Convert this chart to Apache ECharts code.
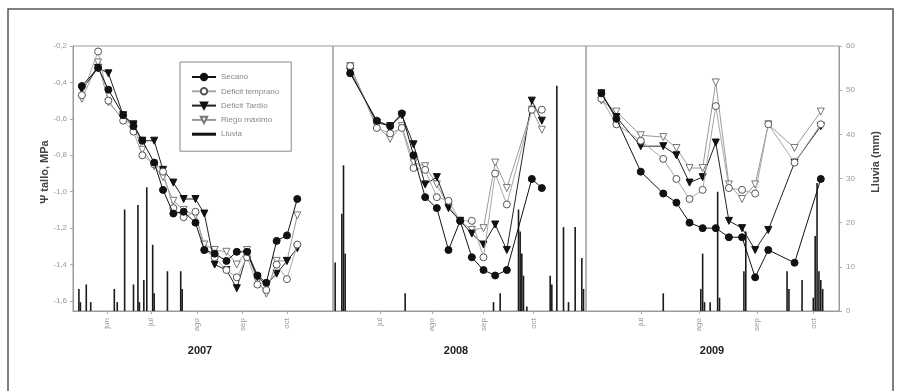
<!DOCTYPE html>
<html>
<head>
<meta charset="utf-8">
<script src="https://cdn.jsdelivr.net/npm/echarts@6/dist/echarts.min.js"></script>
<style>html,body{margin:0;padding:0;background:#fff}#c{width:901px;height:391px}</style>
</head>
<body>
<div id="c"></div>
<script>
// ---------- DATA ----------
const years = ['2007', '2008', '2009'];
const monthTicks2007 = ['06-01', '07-01', '08-01', '09-01', '10-01'];
const monthTicks2008 = ['07-01', '08-01', '09-01', '10-01'];
const monthTicks2009 = ['07-01', '08-01', '09-01', '10-01'];
const monthNames = { '06': 'jun', '07': 'jul', '08': 'ago', '09': 'sep', '10': 'oct' };
const psiTicks = [-0.2, -0.4, -0.6, -0.8, -1.0, -1.2, -1.4, -1.6];
const seriesNames = ['Secano', 'Déficit temprano', 'Déficit Tardío', 'Riego máximo', 'Lluvia'];

// 2007
const dates2007 = ['05-15','05-26','06-02','06-12','06-19','06-25','07-03','07-09','07-16','07-23','07-31','08-06','08-13','08-21','08-28','09-04','09-11','09-17','09-24','10-01','10-08'];
const secano2007   = [-0.42,-0.32,-0.44,-0.58,-0.64,-0.72,-0.84,-0.99,-1.12,-1.11,-1.17,-1.32,-1.34,-1.38,-1.33,-1.33,-1.46,-1.50,-1.27,-1.24,-1.04];
const temprano2007 = [-0.47,-0.23,-0.50,-0.61,-0.67,-0.80,-0.85,-0.89,-1.09,-1.14,-1.11,-1.32,-1.36,-1.43,-1.47,-1.36,-1.51,-1.54,-1.40,-1.48,-1.29];
const tardio2007   = [-0.44,-0.32,-0.35,-0.58,-0.63,-0.72,-0.72,-0.88,-0.95,-1.04,-1.04,-1.12,-1.40,-1.43,-1.53,-1.34,-1.47,-1.51,-1.45,-1.38,-1.31];
const riego2007    = [-0.49,-0.29,-0.51,-0.60,-0.64,-0.77,-0.86,-0.92,-1.05,-1.10,-1.13,-1.29,-1.32,-1.33,-1.40,-1.32,-1.49,-1.56,-1.38,-1.38,-1.13];
const rainDates2007 = ['05-13','05-14','05-18','05-21','06-06','06-08','06-13','06-19','06-22','06-23','06-26','06-28','07-02','07-03','07-12','07-21','07-22'];
const rain2007      = [5, 2, 6, 2, 5, 2, 23, 6, 24, 2, 7, 28, 15, 4, 9, 9, 5];

// 2008
const dates2008 = ['06-13','06-29','07-07','07-14','07-21','07-28','08-04','08-11','08-18','08-25','09-01','09-08','09-15','09-30','10-06'];
const secano2008   = [-0.35,-0.61,-0.64,-0.57,-0.80,-1.03,-1.09,-1.32,-1.16,-1.36,-1.43,-1.46,-1.43,-0.93,-0.98];
const temprano2008 = [-0.31,-0.65,-0.68,-0.65,-0.87,-0.88,-1.03,-1.05,-1.16,-1.16,-1.36,-0.90,-1.07,-0.55,-0.55];
const tardio2008   = [-0.34,-0.62,-0.64,-0.58,-0.74,-0.96,-0.92,-1.09,-1.16,-1.23,-1.29,-1.18,-1.32,-0.50,-0.61];
const riego2008    = [-0.31,-0.64,-0.71,-0.64,-0.84,-0.86,-0.96,-1.08,-1.16,-1.21,-1.20,-0.84,-0.98,-0.55,-0.66];
const rainDates2008 = ['06-04','06-08','06-09','06-10','07-16','09-07','09-11','09-22','09-23','09-24','09-25','09-27','10-11','10-12','10-15','10-19','10-22','10-26','10-30','10-31'];
const rain2008      = [11, 22, 33, 13, 4, 2, 4, 23, 18, 13, 8, 1, 8, 6, 51, 19, 2, 19, 12, 5];

// 2009
const dates2009 = ['06-10','06-18','07-01','07-13','07-20','07-27','08-03','08-10','08-17','08-24','08-31','09-07','09-21','10-05'];
const secano2009   = [-0.46,-0.60,-0.89,-1.01,-1.06,-1.17,-1.20,-1.20,-1.25,-1.25,-1.47,-1.32,-1.39,-0.93];
const temprano2009 = [-0.49,-0.63,-0.72,-0.82,-0.93,-1.04,-0.99,-0.53,-0.98,-0.99,-1.01,-0.63,-0.84,-0.63];
const tardio2009   = [-0.46,-0.59,-0.75,-0.75,-0.80,-0.95,-0.92,-0.73,-1.16,-1.20,-1.32,-1.21,-0.84,-0.64];
const riego2009    = [-0.50,-0.56,-0.69,-0.70,-0.76,-0.87,-0.87,-0.40,-0.96,-1.04,-0.96,-0.63,-0.76,-0.56];
const rainDates2009 = ['07-13','08-02','08-03','08-04','08-07','08-11','08-12','08-25','08-26','09-17','09-18','09-25','10-01','10-02','10-03','10-04','10-05','10-06'];
const rain2009      = [4, 5, 13, 2, 2, 27, 3, 9, 18, 9, 5, 7, 3, 17, 29, 9, 7, 5];

// ---------- HELPERS ----------
const cum = [0, 31, 59, 90, 120, 151, 181, 212, 243, 273, 304, 334];
function doy(md) { const [m, d] = md.split('-').map(Number); return cum[m - 1] + d; }
function pairs(dates, vals) { return dates.map((d, i) => [doy(d), vals[i]]); }

const panels = [
  { dates: dates2007, s: [secano2007, temprano2007, tardio2007, riego2007], rd: rainDates2007, r: rain2007, ticks: monthTicks2007, min: 129, max: 305.2, left: 73, width: 260 },
  { dates: dates2008, s: [secano2008, temprano2008, tardio2008, riego2008], rd: rainDates2008, r: rain2008, ticks: monthTicks2008, min: 153.7, max: 305.5, left: 333, width: 253 },
  { dates: dates2009, s: [secano2009, temprano2009, tardio2009, riego2009], rd: rainDates2009, r: rain2009, ticks: monthTicks2009, min: 152.8, max: 287.7, left: 586, width: 253 }
];

const FONT = 'Liberation Sans, Arial, sans-serif';
const frame = '#9a9a9a';
const styles = [
  { line: '#111', fill: '#111', border: '#111', symbol: 'circle', rot: 0 },
  { line: '#a8a8a8', fill: '#fff', border: '#555', symbol: 'circle', rot: 0 },
  { line: '#222', fill: '#111', border: '#111', symbol: 'triangle', rot: 180 },
  { line: '#9a9a9a', fill: '#fff', border: '#777', symbol: 'triangle', rot: 180 }
];

const grid = [], xAxis = [], yAxis = [], series = [];
panels.forEach((p, i) => {
  grid.push({ left: p.left, width: p.width, top: 46, height: 265, show: true, borderColor: frame, borderWidth: 1, containLabel: false });
  const tickVals = p.ticks.map(doy);
  xAxis.push({
    type: 'value', gridIndex: i, min: p.min, max: p.max,
    axisLine: { show: true, onZero: false, lineStyle: { color: frame } },
    splitLine: { show: false },
    axisTick: { show: true, customValues: tickVals, length: 3, lineStyle: { color: '#aaa' } },
    axisLabel: {
      show: true, customValues: tickVals, rotate: 90, margin: 7,
      color: '#999', fontSize: 8, fontFamily: FONT,
      formatter: v => { const idx = tickVals.indexOf(v); return idx >= 0 ? monthNames[p.ticks[idx].slice(0, 2)] : ''; }
    }
  });
  yAxis.push({
    type: 'value', gridIndex: i, min: -1.655, max: -0.2, position: 'left',
    axisLine: { show: i === 0, lineStyle: { color: frame } },
    splitLine: { show: false },
    axisTick: { show: i === 0, customValues: psiTicks, length: 3, lineStyle: { color: '#aaa' } },
    axisLabel: { show: i === 0, customValues: psiTicks, color: '#999', fontSize: 8, margin: 6, fontFamily: FONT,
      formatter: v => v.toFixed(1).replace('.', ',') }
  });
  yAxis.push({
    type: 'value', gridIndex: i, min: 0, max: 60, interval: 10, position: 'right',
    axisLine: { show: i === 2, lineStyle: { color: frame } },
    splitLine: { show: false },
    axisTick: { show: i === 2, length: 3, lineStyle: { color: '#aaa' } },
    axisLabel: { show: i === 2, color: '#999', fontSize: 8, margin: 7, fontFamily: FONT }
  });
  series.push({
    name: 'Lluvia', type: 'bar', xAxisIndex: i, yAxisIndex: 2 * i + 1,
    data: pairs(p.rd, p.r), barWidth: 1.6, itemStyle: { color: '#1a1a1a' }, z: 1, silent: true
  });
  p.s.forEach((vals, k) => {
    const st = styles[k];
    series.push({
      name: seriesNames[k], type: 'line', xAxisIndex: i, yAxisIndex: 2 * i,
      data: pairs(p.dates, vals), symbol: st.symbol, symbolRotate: st.rot, symbolSize: k % 2 === 0 ? 7 : 7,
      lineStyle: { color: st.line, width: 1 },
      itemStyle: { color: st.fill, borderColor: st.border, borderWidth: 1 },
      z: 3 + (3 - k)
    });
  });
});

const chart = echarts.init(document.getElementById('c'), null, { renderer: 'canvas' });
chart.setOption({
  animation: false,
  backgroundColor: '#fff',
  grid, xAxis, yAxis, series,
  legend: {
    orient: 'vertical', left: 180, top: 62, itemWidth: 24, itemHeight: 8, itemGap: 4.3,
    borderColor: '#888', borderWidth: 1, padding: [10, 12, 12, 11],
    textStyle: { fontSize: 8, color: '#888', fontFamily: FONT, lineHeight: 10 },
    data: ['Secano', 'Déficit temprano', 'Déficit Tardío', 'Riego máximo',
      { name: 'Lluvia', icon: 'path://M0,0L24,0L24,3L0,3Z', itemStyle: { color: '#111' } }]
  },
  graphic: [
    { type: 'rect', shape: { x: 8, y: 9, width: 885, height: 400 }, style: { fill: 'none', stroke: '#555', lineWidth: 1.5 }, silent: true, z: -1 },
    { type: 'text', x: 45, y: 172, rotation: Math.PI / 2, style: { text: 'Ψ tallo, MPa', font: 'bold 11px ' + FONT, fill: '#444', align: 'center', verticalAlign: 'middle' } },
    { type: 'text', x: 876, y: 162, rotation: Math.PI / 2, style: { text: 'Lluvia (mm)', font: 'bold 11px ' + FONT, fill: '#444', align: 'center', verticalAlign: 'middle' } },
    { type: 'text', x: 200, y: 351, style: { text: years[0], font: 'bold 11px ' + FONT, fill: '#222', align: 'center', verticalAlign: 'middle' } },
    { type: 'text', x: 456, y: 351, style: { text: years[1], font: 'bold 11px ' + FONT, fill: '#222', align: 'center', verticalAlign: 'middle' } },
    { type: 'text', x: 712, y: 351, style: { text: years[2], font: 'bold 11px ' + FONT, fill: '#222', align: 'center', verticalAlign: 'middle' } }
  ]
});
</script>
</body>
</html>
